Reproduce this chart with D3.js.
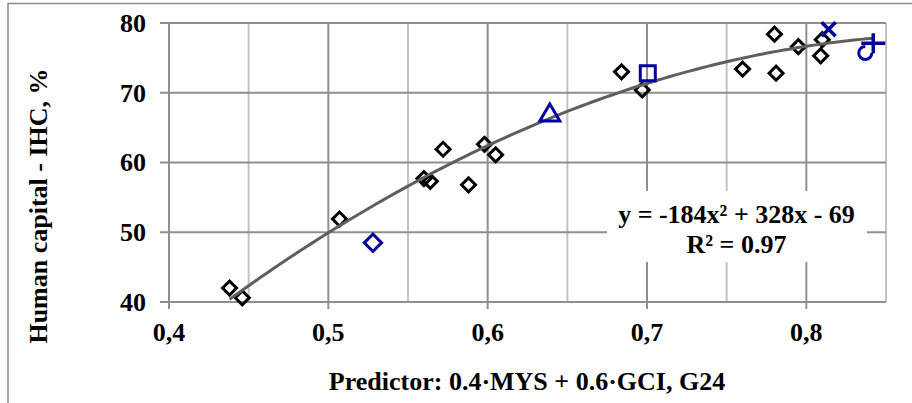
<!DOCTYPE html>
<html>
<head>
<meta charset="utf-8">
<script src="https://cdn.jsdelivr.net/npm/d3@7"></script>
<style>
  body { margin: 0; background: #fff; }
  text { font-family: "Liberation Serif", "Times New Roman", serif; font-weight: bold; fill: #000; }
</style>
</head>
<body>
<svg id="chart"></svg>
<script>
// Chart data
const predictor = [0.438, 0.446, 0.507, 0.560, 0.564, 0.572, 0.588, 0.598, 0.605, 0.684, 0.697, 0.760, 0.780, 0.781, 0.795, 0.810, 0.809];
const humanCapital = [42.0, 40.6, 51.9, 57.7, 57.3, 61.9, 56.8, 62.6, 61.1, 73.0, 70.4, 73.4, 78.4, 72.8, 76.6, 77.6, 75.3];

// Highlighted points (blue markers)
const highlightX = [0.528, 0.639, 0.7005, 0.814, 0.842, 0.837];
const highlightY = [48.5, 67.1, 72.8, 79.1, 77.1, 75.7];
const highlightShape = ['diamond', 'triangle', 'square', 'cross', 'plus', 'arc'];

// Polynomial trend (a, b, c) and its x range
const trendCoef = [-179.3, 322.2, -66.35];
const trendRange = [0.438, 0.844];

const xTicks = [0.4, 0.5, 0.6, 0.7, 0.8];
const xMinorTicks = [0.45, 0.55, 0.65, 0.75, 0.85];
const yTicks = [40, 50, 60, 70, 80];

const width = 912;
const height = 403;
const blue = '#00009c';

const svg = d3.select('#chart')
    .attr('width', width)
    .attr('height', height);

// Outer border (chart frame runs off the picture)
svg.append('path')
    .attr('d', `M8,${height} V3.5 H${width}`)
    .attr('fill', 'none')
    .attr('stroke', '#8c8c8c')
    .attr('stroke-width', 1.5);

const x = d3.scaleLinear().domain([0.4, 0.85]).range([169, 886]);
const y = d3.scaleLinear().domain([40, 80]).range([302, 23]);

// Minor vertical gridlines
svg.selectAll('.minor')
    .data(xMinorTicks)
    .enter().append('line')
    .attr('x1', d => x(d)).attr('x2', d => x(d))
    .attr('y1', y(80)).attr('y2', y(40))
    .attr('stroke', '#c3c3c3')
    .attr('stroke-width', 2);

// Major vertical gridlines
svg.selectAll('.vmajor')
    .data(xTicks)
    .enter().append('line')
    .attr('x1', d => x(d)).attr('x2', d => x(d))
    .attr('y1', y(80)).attr('y2', y(40) + 7)
    .attr('stroke', '#8f8f8f')
    .attr('stroke-width', 2);

// Horizontal gridlines
svg.selectAll('.hmajor')
    .data(yTicks)
    .enter().append('line')
    .attr('x1', x(0.4) - 9).attr('x2', x(0.85))
    .attr('y1', d => y(d)).attr('y2', d => y(d))
    .attr('stroke', '#8f8f8f')
    .attr('stroke-width', 2);

// Tick labels
svg.selectAll('.xlabel')
    .data(xTicks)
    .enter().append('text')
    .attr('x', d => x(d))
    .attr('y', 341)
    .attr('text-anchor', 'middle')
    .style('font-size', '26px')
    .text(d => d3.format('.1f')(d).replace('.', ','));

svg.selectAll('.ylabel')
    .data(yTicks)
    .enter().append('text')
    .attr('x', 146)
    .attr('y', d => y(d))
    .attr('dy', '0.34em')
    .attr('text-anchor', 'end')
    .style('font-size', '26px')
    .text(d => d);

// Axis titles
svg.append('text')
    .attr('x', 527)
    .attr('y', 390)
    .attr('text-anchor', 'middle')
    .style('font-size', '26px')
    .text('Predictor: 0.4·MYS + 0.6·GCI, G24');

svg.append('text')
    .attr('transform', 'translate(47,206) rotate(-90)')
    .attr('text-anchor', 'middle')
    .style('font-size', '26px')
    .text('Human capital - IHC, %');

// Black diamonds
const points = predictor.map((d, i) => ({ x: d, y: humanCapital[i] }));
svg.selectAll('.pt')
    .data(points)
    .enter().append('path')
    .attr('d', d3.symbol(d3.symbolSquare, 98))
    .attr('transform', d => `translate(${x(d.x)},${y(d.y)}) rotate(45)`)
    .attr('fill', 'none')
    .attr('stroke', '#000')
    .attr('stroke-width', 3);

// Trend curve
const poly = v => trendCoef[0] * v * v + trendCoef[1] * v + trendCoef[2];
const curveX = d3.range(trendRange[0], trendRange[1] + 0.0001, 0.004);
svg.append('path')
    .datum(curveX)
    .attr('d', d3.line().x(d => x(d)).y(d => y(poly(d))))
    .attr('fill', 'none')
    .attr('stroke', '#5f5f5f')
    .attr('stroke-width', 3);

// Blue markers
const markerPath = {
    diamond: d3.symbol(d3.symbolSquare, 150)(),
    triangle: 'M0,-9L10,8L-10,8Z',
    square: 'M-7.5,-7.5H7.5V7.5H-7.5Z',
    cross: 'M-7,-7L7,7M7,-7L-7,7',
    plus: 'M-12,0H12M0,-10V10',
    arc: d3.arc().innerRadius(6.5).outerRadius(6.5).startAngle(Math.PI / 2).endAngle(2 * Math.PI)()
};
svg.selectAll('.hl')
    .data(highlightX.map((d, i) => ({ x: d, y: highlightY[i], shape: highlightShape[i] })))
    .enter().append('path')
    .attr('d', d => markerPath[d.shape])
    .attr('transform', d => `translate(${x(d.x)},${y(d.y)})` + (d.shape === 'diamond' ? ' rotate(45)' : ''))
    .attr('fill', 'none')
    .attr('stroke', blue)
    .attr('stroke-width', d => (d.shape === 'cross' || d.shape === 'plus') ? 3.5 : 3);

// Equation label
svg.append('rect')
    .attr('x', 607).attr('y', 191)
    .attr('width', 260).attr('height', 71)
    .attr('fill', '#fff');

svg.append('text')
    .attr('x', 736.5).attr('y', 223)
    .attr('text-anchor', 'middle')
    .style('font-size', '26px')
    .text('y = -184x² + 328x - 69');

svg.append('text')
    .attr('x', 736.5).attr('y', 253)
    .attr('text-anchor', 'middle')
    .style('font-size', '26px')
    .text('R² = 0.97');
</script>
</body>
</html>
